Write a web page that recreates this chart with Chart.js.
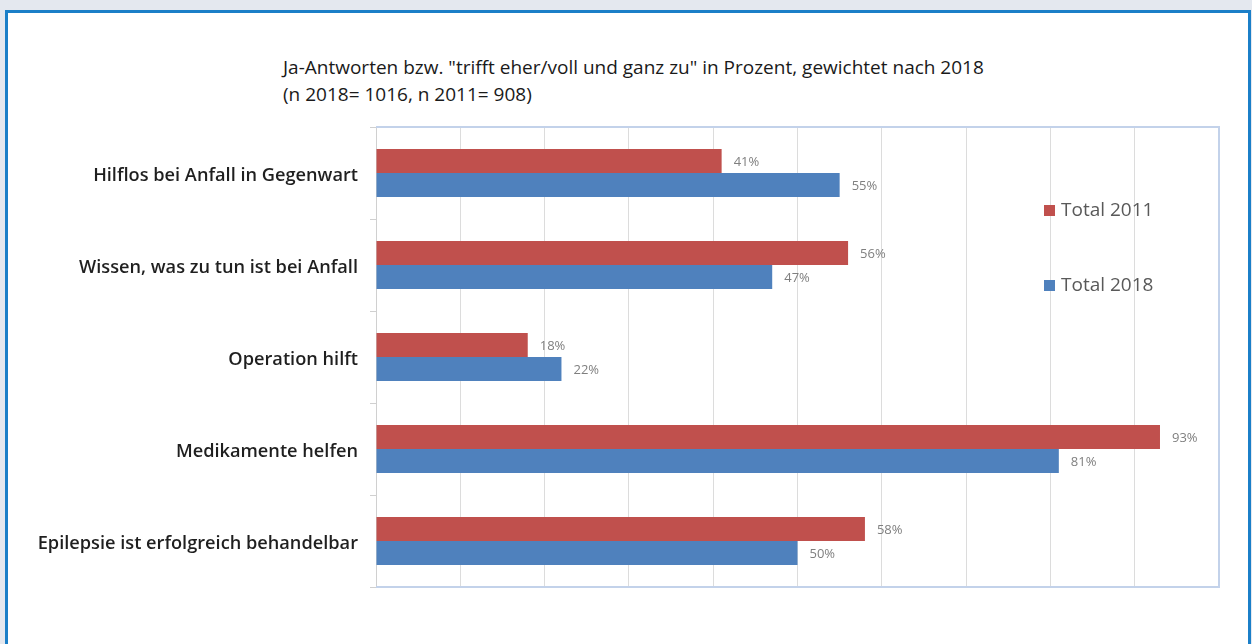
<!DOCTYPE html>
<html lang="de">
<head>
<meta charset="utf-8">
<title>Epilepsie – Wissen und Einstellungen 2011 / 2018</title>
<script src="https://cdn.jsdelivr.net/npm/chart.js@4/dist/chart.umd.min.js"></script>
<style>
  html, body { margin: 0; padding: 0; }
  body { width: 1252px; height: 644px; background: #e4e8ef; position: relative; overflow: hidden; }
  #panel {
    position: absolute; left: 5px; top: 10px; width: 1240px; height: 660px;
    background: #ffffff; border: 3px solid #1b7fc8;
  }
  #title {
    position: absolute; left: 283px; top: 54px; margin: 0;
    font-family: "Open Sans", Lato, sans-serif; font-size: 19px; line-height: 27px;
    color: #1a1a1a; font-weight: normal; white-space: nowrap;
  }
  #wrap { position: absolute; left: 0; top: 0; width: 1252px; height: 644px; }
</style>
</head>
<body>
<div id="panel"></div>
<div id="title">Ja-Antworten bzw. "trifft eher/voll und ganz zu" in Prozent, gewichtet nach 2018<br>(n 2018= 1016, n 2011= 908)</div>
<div id="wrap"><canvas id="chart" width="1252" height="644"></canvas></div>
<script>
// Survey statements (top to bottom)
const categories = [
  'Hilflos bei Anfall in Gegenwart',
  'Wissen, was zu tun ist bei Anfall',
  'Operation hilft',
  'Medikamente helfen',
  'Epilepsie ist erfolgreich behandelbar'
];
// Share of yes / agree answers in percent
const total2011 = [41, 56, 18, 93, 58];
const total2018 = [55, 47, 22, 81, 50];
const seriesNames = ['Total 2011', 'Total 2018'];

const RED = '#c0504d';
const BLUE = '#4f81bd';
const FONT = '"Open Sans", Lato, sans-serif';

// Light blue frame around the plot (top, right, bottom)
const plotFrame = {
  id: 'plotFrame',
  beforeDatasetsDraw(chart) {
    const { ctx, chartArea: a } = chart;
    ctx.save();
    ctx.strokeStyle = '#c3d2ea';
    ctx.lineWidth = 2;
    ctx.beginPath();
    ctx.moveTo(a.left, a.top);
    ctx.lineTo(a.right, a.top);
    ctx.lineTo(a.right, a.bottom);
    ctx.lineTo(a.left, a.bottom);
    ctx.stroke();
    ctx.restore();
  }
};

// Percentage labels at the end of every bar
const valueLabels = {
  id: 'valueLabels',
  afterDatasetsDraw(chart) {
    const { ctx } = chart;
    ctx.save();
    ctx.font = '13px ' + FONT;
    ctx.fillStyle = '#7f7f7f';
    ctx.textAlign = 'left';
    ctx.textBaseline = 'middle';
    chart.data.datasets.forEach((ds, i) => {
      chart.getDatasetMeta(i).data.forEach((bar, j) => {
        ctx.fillText(ds.data[j] + '%', bar.x + 12, bar.y + 1);
      });
    });
    ctx.restore();
  }
};

// Legend inside the plot on the right, one entry per series
const sideLegend = {
  id: 'sideLegend',
  afterDraw(chart) {
    const { ctx } = chart;
    const x = 1044, ys = [210, 285];
    ctx.save();
    ctx.font = '19px ' + FONT;
    ctx.textBaseline = 'middle';
    chart.data.datasets.forEach((ds, i) => {
      ctx.fillStyle = ds.backgroundColor;
      ctx.fillRect(x, ys[i] - 5, 11, 11);
      ctx.fillStyle = '#595959';
      ctx.fillText(ds.label, x + 17, ys[i] + 1);
    });
    ctx.restore();
  }
};

new Chart(document.getElementById('chart'), {
  type: 'bar',
  data: {
    labels: categories,
    datasets: [
      { label: seriesNames[0], data: total2011, backgroundColor: RED, borderColor: RED, borderWidth: 0 },
      { label: seriesNames[1], data: total2018, backgroundColor: BLUE, borderColor: BLUE, borderWidth: 0 }
    ]
  },
  options: {
    indexAxis: 'y',
    responsive: false,
    animation: false,
    events: [],
    layout: { padding: { left: 0, top: 127, right: 33, bottom: 57 } },
    datasets: { bar: { categoryPercentage: 0.52, barPercentage: 1.0 } },
    plugins: {
      legend: { display: false },
      title: { display: false },
      tooltip: { enabled: false }
    },
    scales: {
      x: {
        min: 0, max: 100,
        ticks: { display: false, stepSize: 10 },
        grid: { color: '#dcdcdc', lineWidth: 1, drawTicks: false },
        border: { display: false },
        afterFit(scale) { scale.height = 0; }
      },
      y: {
        ticks: {
          color: '#1f1f1f',
          padding: 12,
          labelOffset: 3,
          font: { family: FONT, size: 18.2, weight: '600' }
        },
        grid: { drawOnChartArea: false, color: '#d0d0d0', tickLength: 6, offset: true },
        border: { color: '#d0d0d0', width: 1 },
        afterFit(scale) { scale.width = 376; }
      }
    }
  },
  plugins: [plotFrame, valueLabels, sideLegend]
});
</script>
</body>
</html>
